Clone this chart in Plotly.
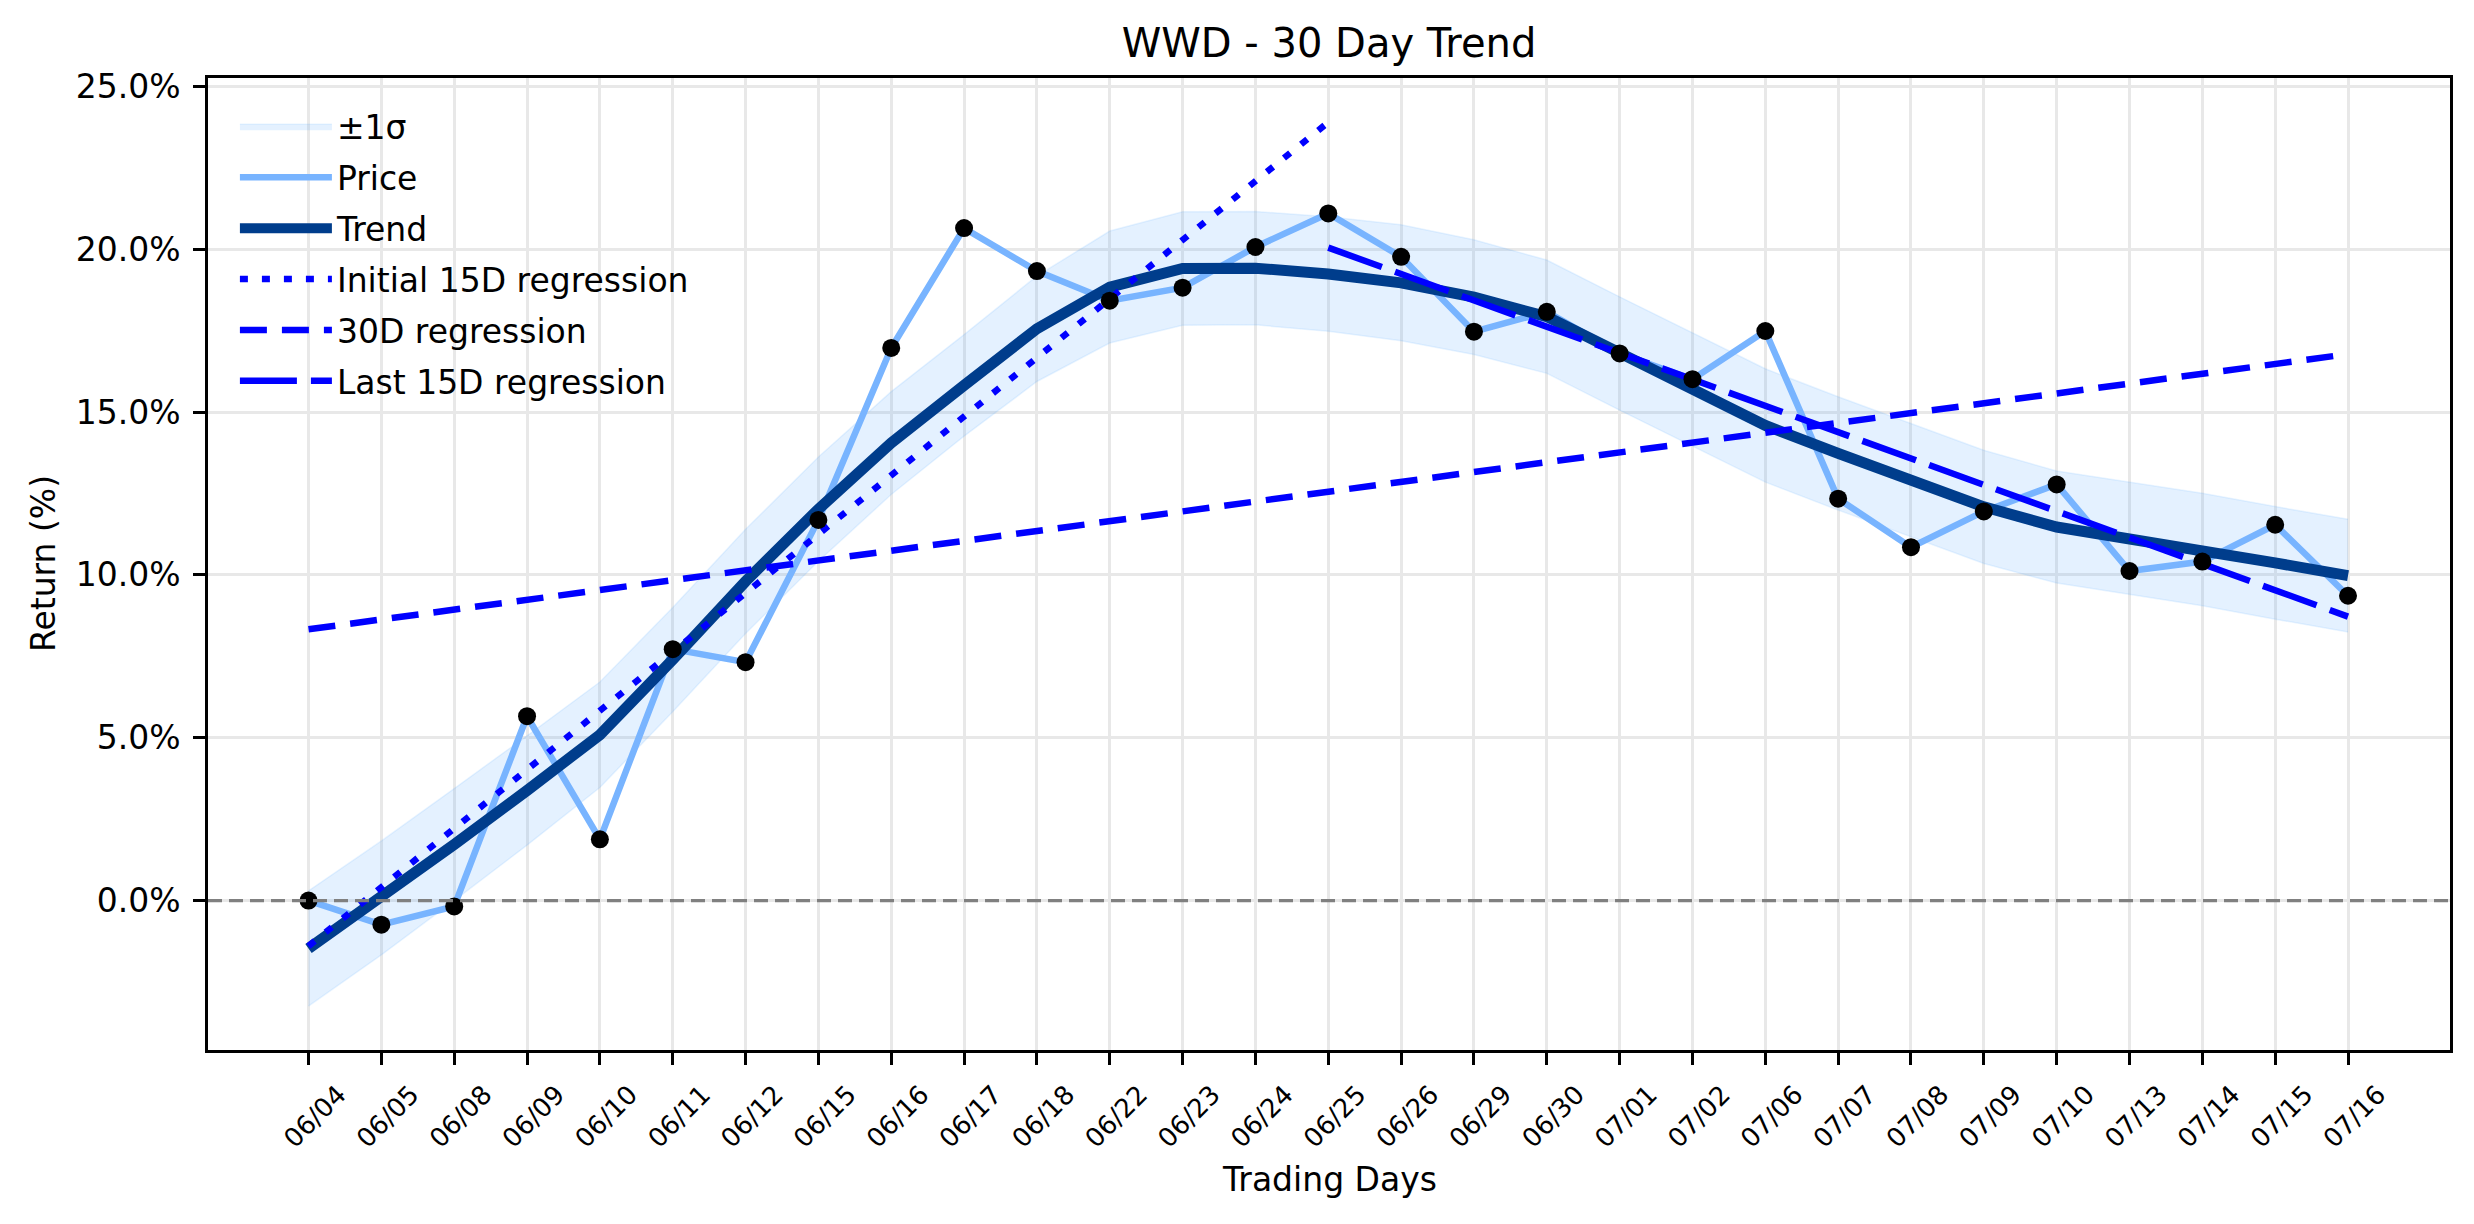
import plotly.graph_objects as go

# ---------------- data ----------------
dates = ["06/04", "06/05", "06/08", "06/09", "06/10", "06/11", "06/12", "06/15", "06/16", "06/17",
         "06/18", "06/22", "06/23", "06/24", "06/25", "06/26", "06/29", "06/30", "07/01", "07/02",
         "07/06", "07/07", "07/08", "07/09", "07/10", "07/13", "07/14", "07/15", "07/16"]

price_ret = [0.0, -0.74, -0.18, 5.66, 1.88, 7.72, 7.32, 11.69, 16.97, 20.65,
             19.33, 18.42, 18.82, 20.07, 21.10, 19.77, 17.47, 18.08, 16.80, 16.01,
             17.49, 12.34, 10.85, 11.95, 12.78, 10.12, 10.41, 11.54, 9.36]

trend_ret = [-1.47, 0.08, 1.72, 3.38, 5.09, 7.40, 9.80, 12.02, 14.05, 15.82,
             17.56, 18.84, 19.41, 19.42, 19.24, 18.97, 18.53, 17.93, 16.80, 15.69,
             14.59, 13.73, 12.91, 12.09, 11.47, 11.12, 10.78, 10.37, 9.98]

sigma = [1.77, 1.75, 1.72, 1.68, 1.62, 1.60, 1.60, 1.60, 1.58, 1.56,
         1.62, 1.72, 1.74, 1.74, 1.76, 1.78, 1.76, 1.74, 1.74, 1.74,
         1.74, 1.74, 1.74, 1.74, 1.72, 1.73, 1.73, 1.73, 1.73]

init15_idx = [0, 14]
init15_val = [-1.40, 23.90]
reg30_idx = [0, 28]
reg30_val = [8.33, 16.78]
last15_idx = [14, 28]
last15_val = [20.05, 8.72]

y_tick_vals = [0, 5, 10, 15, 20, 25]
y_tick_text = ["0.0%", "5.0%", "10.0%", "15.0%", "20.0%", "25.0%"]

# ---------------- figure ----------------
FONT = "DejaVu Sans"
upper = [t + s for t, s in zip(trend_ret, sigma)]
lower = [t - s for t, s in zip(trend_ret, sigma)]

fig = go.Figure()

fig.add_trace(go.Scatter(x=dates, y=lower, mode="lines",
                         line=dict(color="rgba(77,163,255,0.12)", width=1.5),
                         showlegend=False, hoverinfo="skip", legendgroup="band"))
fig.add_trace(go.Scatter(x=dates, y=upper, mode="lines", fill="tonexty",
                         fillcolor="rgba(77,163,255,0.15)",
                         line=dict(color="rgba(77,163,255,0.12)", width=1.5),
                         name="±1σ", legendgroup="band"))
fig.add_trace(go.Scatter(x=dates, y=price_ret, mode="lines",
                         line=dict(color="#78b4ff", width=6.5),
                         name="Price", legendgroup="price"))
fig.add_trace(go.Scatter(x=dates, y=trend_ret, mode="lines",
                         line=dict(color="#003d8c", width=11),
                         name="Trend", legendgroup="trend"))
fig.add_trace(go.Scatter(x=[dates[i] for i in init15_idx], y=init15_val, mode="lines",
                         line=dict(color="#0000ff", width=6.5, dash="8px,14px"),
                         name="Initial 15D regression", legendgroup="i15"))
fig.add_trace(go.Scatter(x=[dates[i] for i in reg30_idx], y=reg30_val, mode="lines",
                         line=dict(color="#0000ff", width=6.5, dash="27px,15px"),
                         name="30D regression", legendgroup="r30"))
fig.add_trace(go.Scatter(x=[dates[i] for i in last15_idx], y=last15_val, mode="lines",
                         line=dict(color="#0000ff", width=6.5, dash="57px,14px"),
                         name="Last 15D regression", legendgroup="l15"))
fig.add_trace(go.Scatter(x=dates, y=price_ret, mode="markers",
                         marker=dict(color="black", size=18),
                         showlegend=False))

fig.add_shape(type="line", xref="paper", yref="y", x0=0, x1=1, y0=0, y1=0,
              line=dict(color="#808080", width=3.3, dash="14px,7px"), layer="above")

PLOT_L, PLOT_R, PLOT_T, PLOT_B = 208, 2450, 78, 1050
W, H = 2474, 1224
plot_h = PLOT_B - PLOT_T

fig.update_layout(
    width=W, height=H,
    margin=dict(l=PLOT_L, r=W - PLOT_R, t=PLOT_T, b=H - PLOT_B, pad=0),
    paper_bgcolor="white", plot_bgcolor="white",
    font=dict(family=FONT, size=33, color="black"),
    title=dict(text="WWD - 30 Day Trend", x=0.5, xref="paper", xanchor="center",
               y=1 - 43 / H, yref="container", yanchor="middle",
               font=dict(family=FONT, size=40, color="black")),
    showlegend=True,
    legend=dict(x=0.012, y=0.979, xanchor="left", yanchor="top",
                bgcolor="rgba(0,0,0,0)", borderwidth=0,
                font=dict(family=FONT, size=33, color="black"),
                tracegroupgap=5, traceorder="grouped", itemwidth=92),
)

fig.update_xaxes(
    type="category", range=[-1.38, 29.4],
    showgrid=True, gridcolor="#e8e8e8", gridwidth=2.7,
    showline=True, linecolor="black", linewidth=2.7, mirror=True,
    ticks="outside", ticklen=12, tickwidth=2.7, tickcolor="black",
    tickangle=-45, tickfont=dict(family=FONT, size=26, color="black"),
    ticklabelshift=30, ticklabelstandoff=4,
    zeroline=False,
)
fig.update_yaxes(
    range=[-4.59, 25.26],
    tickvals=y_tick_vals, ticktext=y_tick_text,
    showgrid=True, gridcolor="#e8e8e8", gridwidth=2.7,
    showline=True, linecolor="black", linewidth=2.7, mirror=True,
    ticks="outside", ticklen=12, tickwidth=2.7, tickcolor="black",
    tickfont=dict(family=FONT, size=33, color="black"),
    ticklabelstandoff=6,
    zeroline=False,
)

fig.add_annotation(text="Trading Days", xref="paper", yref="paper",
                   x=0.5, y=-(1179 - PLOT_B) / plot_h, xanchor="center", yanchor="middle",
                   showarrow=False, font=dict(family=FONT, size=33, color="black"))
fig.add_annotation(text="Return (%)", xref="paper", yref="paper",
                   x=-(PLOT_L - 43) / (PLOT_R - PLOT_L), y=0.5, xanchor="center", yanchor="middle",
                   textangle=-90, showarrow=False,
                   font=dict(family=FONT, size=33, color="black"))

fig.write_html("out.html")
